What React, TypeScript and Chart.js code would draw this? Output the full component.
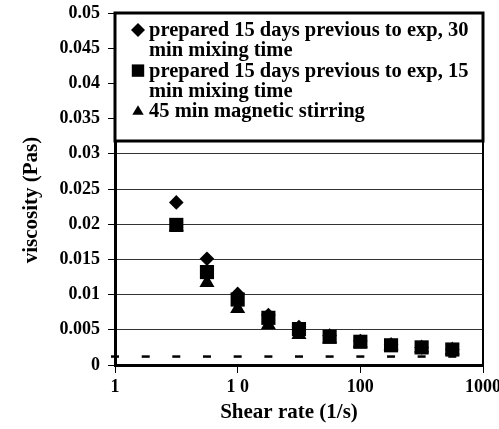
import React, { useEffect, useRef } from 'react';
import { Chart, registerables } from 'chart.js';

Chart.register(...registerables);

// ---- data ----
const shearRate = [3.16, 5.62, 10, 17.8, 31.6, 56.2, 100, 178, 316, 562];
const viscPrep30 = [0.0231, 0.0151, 0.0101, 0.0071, 0.0054, 0.0042, 0.0034, 0.0029, 0.0025, 0.0022];
const viscPrep15 = [0.0199, 0.0132, 0.0093, 0.0067, 0.0051, 0.004, 0.0033, 0.0028, 0.0025, 0.0022];
const viscMagnetic = [0.0196, 0.0117, 0.008, 0.0057, 0.0043, 0.0037, 0.0031, 0.0027, 0.0024, 0.0021];
const baselineRate = [1, 1.78, 3.16, 5.62, 10, 17.8, 31.6, 56.2, 100, 178, 316, 562];
const baselineVisc = [0.0012, 0.0012, 0.0012, 0.0012, 0.0012, 0.0012, 0.0012, 0.0012, 0.0012, 0.0012, 0.0012, 0.0012];

const seriesLabels: (string | string[])[] = [
  ['prepared 15 days previous to exp, 30', 'min mixing time'],
  ['prepared 15 days previous to exp, 15', 'min mixing time'],
  '45 min magnetic stirring',
];

const xTickValues = [1, 10, 100, 1000];
const xTickLabels = ['1', '1 0', '100', '1000'];
const yTickValues = [0, 0.005, 0.01, 0.015, 0.02, 0.025, 0.03, 0.035, 0.04, 0.045, 0.05];
const yTickLabels = ['0', '0.005', '0.01', '0.015', '0.02', '0.025', '0.03', '0.035', '0.04', '0.045', '0.05'];
const xTitle = 'Shear rate (1/s)';
const yTitle = 'viscosity (Pas)';

const FONT = "'Liberation Serif', 'Times New Roman', serif";

function drawMarker(ctx: CanvasRenderingContext2D, style: string, x: number, y: number, s: number) {
  ctx.beginPath();
  if (style === 'rectRot') {
    ctx.moveTo(x - s, y);
    ctx.lineTo(x, y - s);
    ctx.lineTo(x + s, y);
    ctx.lineTo(x, y + s);
  } else if (style === 'rect') {
    ctx.rect(x - s, y - s, 2 * s, 2 * s);
  } else {
    ctx.moveTo(x, y - s);
    ctx.lineTo(x + s * 0.95, y + s * 0.6);
    ctx.lineTo(x - s * 0.95, y + s * 0.6);
  }
  ctx.closePath();
  ctx.fill();
}

export default function App() {
  const ref = useRef<HTMLCanvasElement>(null);

  useEffect(() => {
    document.body.style.margin = '0';
    const canvas = ref.current;
    if (!canvas) return;
    const pts = (xs: number[], ys: number[]) => xs.map((x, i) => ({ x, y: ys[i] }));

    const framePlugin = {
      id: 'frameAndLegend',
      afterDraw(chart: any) {
        const { ctx, chartArea: ca } = chart;
        ctx.save();
        // right frame line
        ctx.strokeStyle = '#000';
        ctx.lineWidth = 2;
        ctx.beginPath();
        ctx.moveTo(ca.right, ca.top);
        ctx.lineTo(ca.right, ca.bottom);
        ctx.stroke();

        // legend box
        const lx = ca.left;
        const ly = ca.top;
        const lw = ca.right - ca.left;
        const lh = 128;
        ctx.fillStyle = '#fff';
        ctx.fillRect(lx, ly, lw, lh);
        ctx.lineWidth = 3;
        ctx.strokeStyle = '#000';
        ctx.strokeRect(lx, ly, lw, lh);

        ctx.fillStyle = '#000';
        ctx.font = `bold 20.5px ${FONT}`;
        ctx.textAlign = 'left';
        ctx.textBaseline = 'alphabetic';
        const lineH = 20.3;
        let baseY = ly + 23;
        const sizes: Record<string, number> = { rectRot: 7, rect: 6.2, triangle: 6 };
        chart.data.datasets.forEach((ds: any) => {
          if (!ds.inLegend) return;
          const lines = Array.isArray(ds.label) ? ds.label : [ds.label];
          const style = ds.pointStyle;
          drawMarker(ctx, style, lx + 23, baseY - 6, sizes[style] || 6);
          lines.forEach((t: string, i: number) => {
            ctx.fillText(t, lx + 34, baseY + i * lineH);
          });
          baseY += lines.length * lineH;
        });

        // axis titles
        ctx.font = `bold 21px ${FONT}`;
        ctx.textAlign = 'center';
        ctx.textBaseline = 'middle';
        ctx.fillText(xTitle, 289, 413);
        ctx.save();
        ctx.translate(32, 200);
        ctx.rotate(-Math.PI / 2);
        ctx.fillText(yTitle, 0, 0);
        ctx.restore();
        ctx.restore();
      },
    };

    const chart = new Chart(canvas, {
      type: 'scatter',
      data: {
        datasets: [
          {
            label: seriesLabels[0] as any,
            inLegend: true,
            data: pts(shearRate, viscPrep30),
            pointStyle: 'rectRot',
            pointRadius: 7.3,
            backgroundColor: '#000',
            borderColor: '#000',
            borderWidth: 0,
            clip: false,
          } as any,
          {
            label: seriesLabels[1] as any,
            inLegend: true,
            data: pts(shearRate, viscPrep15),
            pointStyle: 'rect',
            pointRadius: 10,
            backgroundColor: '#000',
            borderColor: '#000',
            borderWidth: 0,
            clip: false,
          } as any,
          {
            label: seriesLabels[2] as any,
            inLegend: true,
            data: pts(shearRate, viscMagnetic),
            pointStyle: 'triangle',
            pointRadius: 8.7,
            backgroundColor: '#000',
            borderColor: '#000',
            borderWidth: 0,
            clip: false,
          } as any,
          {
            label: 'baseline',
            inLegend: false,
            data: pts(baselineRate, baselineVisc),
            pointStyle: 'line',
            pointRadius: 4,
            backgroundColor: '#000',
            borderColor: '#000',
            borderWidth: 2.5,
            clip: false,
          } as any,
        ],
      },
      options: {
        responsive: false,
        animation: false,
        devicePixelRatio: 1,
        events: [],
        layout: { padding: { top: 13, right: 16, left: 0, bottom: 0 } },
        plugins: {
          legend: { display: false },
          tooltip: { enabled: false },
          title: { display: false },
        },
        scales: {
          x: {
            type: 'logarithmic',
            position: 'bottom',
            min: 1,
            max: 1000,
            afterBuildTicks: (scale: any) => {
              scale.ticks = xTickValues.map((v) => ({ value: v, major: true }));
            },
            afterFit: (scale: any) => {
              scale.height = 64;
              scale.paddingLeft = 0;
              scale.paddingRight = 0;
            },
            ticks: {
              autoSkip: false,
              maxRotation: 0,
              minRotation: 0,
              padding: 4,
              color: '#000',
              font: { family: FONT, size: 18, weight: 'bold' },
              callback: (_v: any, i: number) => xTickLabels[i],
            },
            grid: {
              display: true,
              drawOnChartArea: false,
              drawTicks: true,
              tickLength: 8,
              tickColor: '#000',
              tickWidth: 1,
              color: '#000',
            },
            border: { display: true, color: '#000', width: 3 },
          },
          y: {
            type: 'linear',
            min: 0,
            max: 0.05,
            afterBuildTicks: (scale: any) => {
              scale.ticks = yTickValues.map((v) => ({ value: v }));
            },
            afterFit: (scale: any) => {
              scale.width = 115;
              scale.paddingTop = 0;
              scale.paddingBottom = 0;
            },
            ticks: {
              autoSkip: false,
              padding: 8,
              color: '#000',
              font: { family: FONT, size: 18, weight: 'bold' },
              callback: (_v: any, i: number) => yTickLabels[i],
            },
            grid: {
              display: true,
              drawOnChartArea: true,
              drawTicks: true,
              tickLength: 7,
              tickColor: '#000',
              tickWidth: 1,
              color: '#333',
              lineWidth: 1,
            },
            border: { display: true, color: '#000', width: 3 },
          },
        },
      } as any,
      plugins: [framePlugin as any],
    });

    return () => chart.destroy();
  }, []);

  return (
    <div style={{ width: 499, height: 429 }}>
      <canvas ref={ref} width={499} height={429} style={{ display: 'block' }} />
    </div>
  );
}
